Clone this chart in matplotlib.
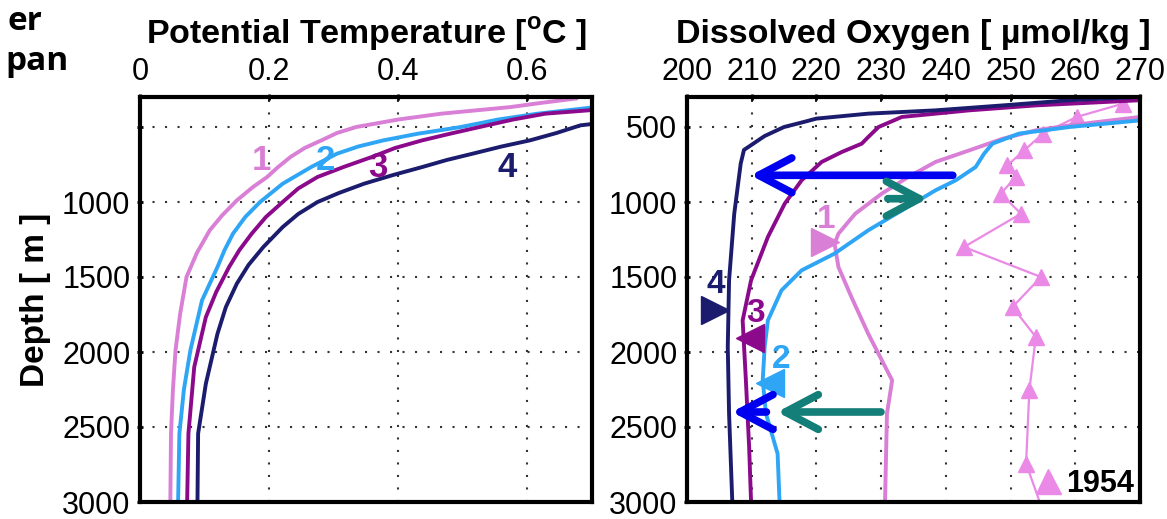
import matplotlib
matplotlib.use('Agg')
import matplotlib.pyplot as plt
from matplotlib.lines import Line2D

plt.rcParams['font.family'] = ['Liberation Sans', 'DejaVu Sans']
plt.rcParams['mathtext.fontset'] = 'custom'
plt.rcParams['mathtext.rm'] = 'Liberation Sans'
plt.rcParams['mathtext.bf'] = 'Liberation Sans:bold'

# potential temperature profiles (depth in m, theta in degC)
t1_depth = [310, 340, 367, 411, 450, 500, 540, 589, 640, 700, 770, 833, 900, 989, 1090, 1189, 1340, 1500, 1750, 1989, 2250, 2544, 3000]
t1_theta = [0.675, 0.620, 0.574, 0.467, 0.400, 0.335, 0.305, 0.281, 0.255, 0.233, 0.213, 0.197, 0.175, 0.150, 0.127, 0.108, 0.088, 0.072, 0.062, 0.055, 0.051, 0.048, 0.047]
t2_depth = [370, 411, 450, 500, 545, 589, 630, 678, 767, 878, 1000, 1100, 1211, 1320, 1433, 1656, 1989, 2250, 2544, 3000]
t2_theta = [0.700, 0.616, 0.555, 0.497, 0.430, 0.377, 0.338, 0.305, 0.265, 0.221, 0.186, 0.163, 0.144, 0.131, 0.120, 0.096, 0.078, 0.068, 0.061, 0.059]
t3_depth = [387, 411, 450, 500, 545, 589, 640, 700, 767, 833, 910, 1000, 1100, 1211, 1320, 1433, 1600, 1767, 2100, 2544, 3000]
t3_theta = [0.700, 0.628, 0.578, 0.526, 0.480, 0.437, 0.395, 0.359, 0.315, 0.275, 0.245, 0.221, 0.195, 0.173, 0.154, 0.138, 0.118, 0.102, 0.084, 0.075, 0.073]
t4_depth = [480, 489, 540, 589, 630, 678, 720, 767, 820, 878, 940, 1000, 1080, 1167, 1300, 1420, 1544, 1700, 1878, 2211, 2544, 3000]
t4_theta = [0.700, 0.682, 0.645, 0.604, 0.560, 0.515, 0.475, 0.437, 0.392, 0.347, 0.308, 0.275, 0.245, 0.221, 0.191, 0.168, 0.150, 0.133, 0.120, 0.102, 0.090, 0.089]

# dissolved oxygen profiles (umol/kg)
o1_depth = [433, 489, 522, 578, 656, 733, 833, 944, 1078, 1211, 1278, 1433, 1633, 1878, 2189, 2411, 3000]
o1_oxy = [270.0, 259.1, 253.9, 248.8, 243.6, 238.4, 234.2, 230.1, 226.0, 223.4, 222.8, 223.4, 225.4, 228.0, 231.7, 230.9, 230.6]
o2_depth = [456, 500, 544, 611, 678, 767, 856, 922, 1056, 1189, 1344, 1456, 1589, 1789, 1967, 2189, 2411, 2678, 3000]
o2_oxy = [270.0, 259.1, 251.3, 247.2, 245.9, 244.6, 241.5, 238.4, 233.2, 228.0, 222.8, 217.7, 214.6, 212.5, 212.0, 211.7, 212.2, 214.0, 214.3]
o3_depth = [322, 356, 389, 433, 500, 567, 611, 667, 733, 856, 1011, 1233, 1522, 1789, 2189, 2633, 3000]
o3_oxy = [269.8, 253.9, 243.6, 233.2, 229.6, 228.0, 227.0, 223.9, 220.8, 217.7, 215.1, 212.5, 209.9, 208.6, 209.1, 209.6, 209.9]
o4_depth = [300, 322, 356, 389, 411, 444, 467, 500, 560, 653, 744, 1078, 1522, 1967, 2411, 3000]
o4_oxy = [269.5, 259.0, 248.8, 238.4, 228.0, 220.0, 218.0, 215.0, 212.0, 208.8, 208.3, 207.3, 206.5, 206.3, 206.5, 207.0]
o1954_depth = [344, 433, 544, 656, 756, 833, 944, 1078, 1300, 1500, 1700, 1900, 2256, 2744, 3000]
o1954_oxy = [267.4, 260.2, 255.0, 252.1, 249.5, 250.8, 248.5, 251.6, 242.8, 254.7, 250.3, 253.9, 252.9, 252.4, 254.5]

depth_ticks = [500, 1000, 1500, 2000, 2500, 3000]
theta_ticks = [0, 0.2, 0.4, 0.6]
oxy_ticks = [200, 210, 220, 230, 240, 250, 260, 270]

c1 = '#d97fd6'
c2 = '#2fa5f5'
c3 = '#8b0a8b'
c4 = '#1c1c6e'
c1954 = '#ea8ae6'
arrow_blue = '#0000f0'
arrow_teal = '#147f78'

fig = plt.figure(figsize=(11.67, 5.19), dpi=100)
ax1 = fig.add_axes([140 / 1167, 17 / 519, 452 / 1167, 405 / 519])
ax2 = fig.add_axes([687 / 1167, 17 / 519, 453 / 1167, 405 / 519])

for ax in (ax1, ax2):
    ax.set_ylim(3000, 300)
    ax.set_yticks(depth_ticks)
    ax.xaxis.tick_top()
    ax.tick_params(labelsize=22, length=4, width=2, pad=5, direction='inout')
    ax.grid(True, color='#333333', linestyle=(0, (1, 5)), linewidth=1.5)
    for s in ax.spines.values():
        s.set_linewidth(3)

# left panel
ax1.set_xlim(0, 0.7)
ax1.set_xticks(theta_ticks)
ax1.set_xticklabels(['0', '0.2', '0.4', '0.6'])
ax1.set_yticklabels([''] + [str(d) for d in depth_ticks[1:]])
ax1.plot(t1_theta, t1_depth, color=c1, lw=2.8)
ax1.plot(t2_theta, t2_depth, color=c2, lw=2.8)
ax1.plot(t3_theta, t3_depth, color=c3, lw=2.8)
ax1.plot(t4_theta, t4_depth, color=c4, lw=2.8)
ax1.text(0.188, 722, '1', color=c1, fontsize=25, fontweight='bold', ha='center', va='center')
ax1.text(0.287, 722, '2', color=c2, fontsize=25, fontweight='bold', ha='center', va='center')
ax1.text(0.368, 767, '3', color=c3, fontsize=25, fontweight='bold', ha='center', va='center')
ax1.text(0.568, 767, '4', color=c4, fontsize=25, fontweight='bold', ha='center', va='center')
ax1.set_title(r'Potential Temperature [$^{\mathbf{o}}$C ]', fontsize=24.5, fontweight='bold', pad=10)
ax1.set_ylabel('Depth [ m ]', fontsize=24, fontweight='bold', labelpad=8)

# right panel
ax2.set_xlim(200, 270)
ax2.set_xticks(oxy_ticks)
ax2.plot(o1954_oxy, o1954_depth, color=c1954, lw=1.6, marker='^', ms=12,
         markevery=list(range(len(o1954_oxy) - 1)))
ax2.plot(o1_oxy, o1_depth, color=c1, lw=2.8)
ax2.plot(o2_oxy, o2_depth, color=c2, lw=2.8)
ax2.plot(o3_oxy, o3_depth, color=c3, lw=2.8)
ax2.plot(o4_oxy, o4_depth, color=c4, lw=2.8)

ax2.plot(221.3, 1267, marker='>', color=c1, ms=20)
ax2.plot(204.4, 1720, marker='>', color=c4, ms=20)
ax2.plot(209.8, 1907, marker='<', color=c3, ms=20)
ax2.plot(212.8, 2207, marker='<', color=c2, ms=20)
ax2.text(221.5, 1120, '1', color=c1, fontsize=24, fontweight='bold', ha='center', va='center')
ax2.text(204.4, 1553, '4', color=c4, fontsize=24, fontweight='bold', ha='center', va='center')
ax2.text(210.6, 1740, '3', color=c3, fontsize=24, fontweight='bold', ha='center', va='center')
ax2.text(214.5, 2053, '2', color=c2, fontsize=24, fontweight='bold', ha='center', va='center')

head = '->,head_length=0.95,head_width=0.5'
ax2.annotate('', xy=(209.4, 822), xytext=(241.5, 822),
             arrowprops=dict(arrowstyle=head, color=arrow_blue, lw=5.5, mutation_scale=25))
ax2.annotate('', xy=(237.6, 978), xytext=(230.6, 978),
             arrowprops=dict(arrowstyle=head, color=arrow_teal, lw=5.5, mutation_scale=25))
ax2.annotate('', xy=(213.5, 2400), xytext=(230.4, 2400),
             arrowprops=dict(arrowstyle=head, color=arrow_teal, lw=5.5, mutation_scale=25))
ax2.annotate('', xy=(206.5, 2400), xytext=(212.7, 2400),
             arrowprops=dict(arrowstyle=head, color=arrow_blue, lw=5.5, mutation_scale=25))

h = Line2D([], [], color=c1954, marker='^', ls='none', ms=18)
ax2.legend([h], ['1954'], loc='lower right', bbox_to_anchor=(1.0, -0.007),
           frameon=False, handletextpad=0.0, handlelength=1.2, borderpad=0.2,
           borderaxespad=0.0, prop={'size': 22, 'weight': 'bold'})
ax2.set_title('Dissolved Oxygen [ \u00b5mol/kg ]', fontsize=24.5, fontweight='bold', pad=10)

# clipped text at the top left
fig.text(42 / 1167, 1 - 30 / 519, 'er', fontsize=24, fontweight='bold',
         family='Open Sans', ha='right', va='baseline')
fig.text(69 / 1167, 1 - 70 / 519, 'pan', fontsize=24, fontweight='bold',
         family='Open Sans', ha='right', va='baseline')

fig.savefig('out.png', dpi=100)
